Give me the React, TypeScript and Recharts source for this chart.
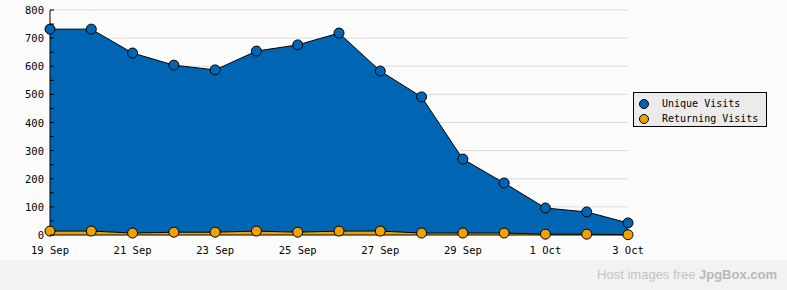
import React from "react";
import { ComposedChart, Area, XAxis, YAxis, CartesianGrid } from "recharts";

const days = ["19 Sep","20 Sep","21 Sep","22 Sep","23 Sep","24 Sep","25 Sep","26 Sep","27 Sep","28 Sep","29 Sep","30 Sep","1 Oct","2 Oct","3 Oct"];
const uniqueVisits = [732, 732, 647, 604, 587, 654, 676, 718, 583, 491, 270, 185, 96, 82, 43];
const returningVisits = [14, 14, 7, 10, 10, 14, 10, 14, 14, 7, 7, 7, 3, 3, 1];
const yTicks = [0,50,100,150,200,250,300,350,400,450,500,550,600,650,700,750,800];
const gridValues = [100,200,300,400,500,600,700,800];
const seriesNames = ["Unique Visits", "Returning Visits"];
const seriesColors = ["#0066b3", "#f0a000"];

const data = days.map((d, i) => ({ day: d, unique: uniqueVisits[i], returning: returningVisits[i] }));

const FONT = "'DejaVu Sans Mono', monospace";

const YTick = (props: any) => {
  const { x, y, payload } = props;
  const v = payload.value;
  return (
    <g>
      <line x1={x + 6} x2={x + 10} y1={y} y2={y} stroke="#000" strokeWidth={1} />
      {v % 100 === 0 ? (
        <text x={x} y={y} dy={4} textAnchor="end" fontSize={10.5} fontFamily={FONT} fill="#000">{v}</text>
      ) : null}
    </g>
  );
};

const LegendBox = () => (
  <div style={{ position: "absolute", left: 633, top: 92, width: 132, height: 33, border: "1px solid #000", background: "#ebebeb", fontFamily: FONT, fontSize: 10, color: "#000", whiteSpace: "nowrap" }}>
    {seriesNames.map((t, i) => (
      <div key={t} style={{ position: "absolute", left: 5, top: 3 + i * 15, height: 15, display: "flex", alignItems: "center" }}>
        <span style={{ display: "inline-block", width: 8, height: 8, borderRadius: 5, background: seriesColors[i], border: "1px solid #000", marginRight: 13 }} />
        {t}
      </div>
    ))}
  </div>
);

export default function App() {
  return (
    <div style={{ position: "absolute", left: 0, top: 0, width: 787, height: 290, background: "#fcfcfc", overflow: "hidden" }}>
      <ComposedChart width={787} height={290} data={data} margin={{ top: 10, right: 159, bottom: 30, left: 0 }}>
        <CartesianGrid horizontal={true} vertical={false} stroke="#dcdcdc" horizontalValues={gridValues} />
        <XAxis dataKey="day" interval={1} tickLine={false} axisLine={{ stroke: "#000" }} tick={{ fontSize: 10.5, fontFamily: FONT, fill: "#000" }} tickMargin={6} height={25} padding={{ left: 0, right: 0 }} />
        <YAxis domain={[0, 800]} ticks={yTicks} interval={0} width={50} tickSize={4} tickMargin={2} tickLine={false} axisLine={{ stroke: "#000" }} tick={<YTick />} />
        <Area type="linear" dataKey="unique" stroke="#000" strokeWidth={1} fill="#0066b3" fillOpacity={1} isAnimationActive={false} dot={{ r: 5, fill: "#0066b3", stroke: "#000", strokeWidth: 1 }} />
        <Area type="linear" dataKey="returning" stroke="#000" strokeWidth={1} fill="#f0a000" fillOpacity={1} isAnimationActive={false} dot={{ r: 5, fill: "#f0a000", stroke: "#000", strokeWidth: 1 }} />
      </ComposedChart>
      <LegendBox />
      <div style={{ position: "absolute", left: 0, top: 260, width: 787, height: 30, background: "#f2f2f2" }}>
        <div style={{ position: "absolute", right: 10, top: 7, fontFamily: "'Liberation Sans', Arial, sans-serif", fontSize: 13, color: "#c4c4c4" }}>
          Host images free <span style={{ fontWeight: "bold", color: "#b8b8b8" }}>JpgBox.com</span>
        </div>
      </div>
    </div>
  );
}
